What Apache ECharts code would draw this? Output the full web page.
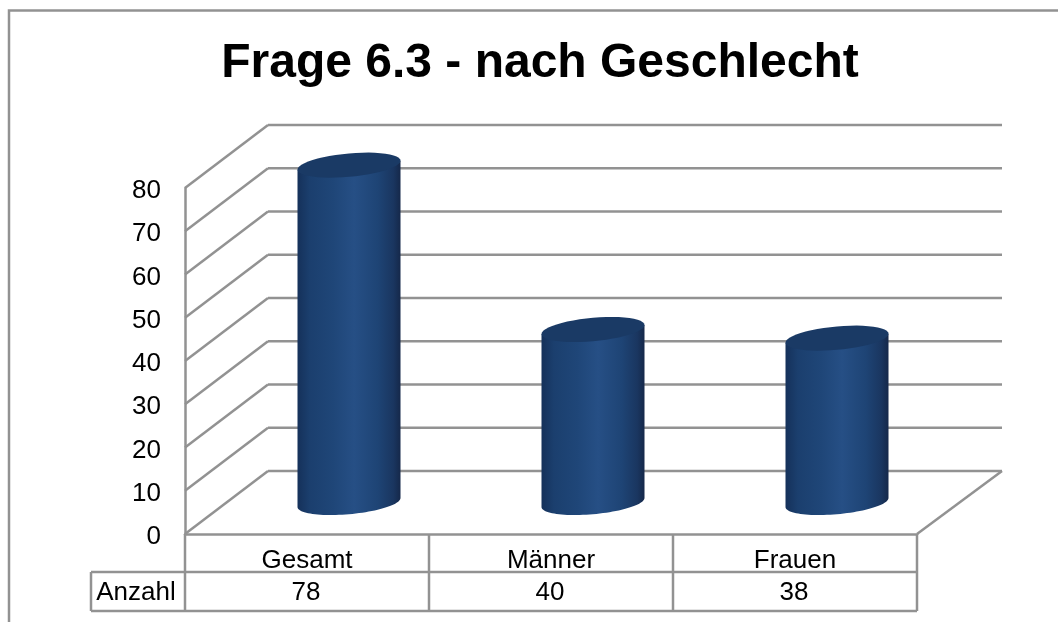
<!DOCTYPE html>
<html>
<head>
<meta charset="utf-8">
<style>html,body{margin:0;padding:0;background:#fff}#chart{width:1058px;height:622px}</style>
<script src="https://cdn.jsdelivr.net/npm/echarts@6/dist/echarts.min.js"></script>
</head>
<body>
<div id="chart"></div>
<script>
var categories = ['Gesamt', 'Männer', 'Frauen'];
var values = [78, 40, 38];
var yTicks = [0, 10, 20, 30, 40, 50, 60, 70, 80];
var rowName = 'Anzahl';
var titleText = 'Frage 6.3 - nach Geschlecht';

var lineColor = '#929292';
var textColor = '#000';
var font = 'Liberation Sans, Arial, sans-serif';
// Tiefe der 3D-Ansicht in Pixel
var depthX = 83, depthY = 63;
var rowH = 38;

function lineEl(x1, y1, x2, y2, w) {
    return {
        type: 'line',
        shape: {x1: x1, y1: y1, x2: x2, y2: y2},
        style: {stroke: lineColor, lineWidth: w || 2.5}
    };
}

// Ellipsenpunkte, leicht gekippt wie in der 3D-Vorlage
function ellipsePts(cx, cy, from, to) {
    var a = 51.5, b = 11.7, s = 4.5, pts = [];
    for (var i = 0; i <= 48; i++) {
        var t = from + (to - from) * i / 48;
        pts.push([cx + a * Math.cos(t), cy + b * Math.sin(t) - s * Math.cos(t)]);
    }
    return pts;
}

function renderGrid(params, api) {
    var p = api.coord([0, api.value(0)]);
    var left = params.coordSys.x, right = left + params.coordSys.width, y = p[1];
    var children = [
        lineEl(left, y, left + depthX, y - depthY),
        lineEl(left + depthX, y - depthY, right + depthX + 2, y - depthY)
    ];
    if (api.value(0) === 0) {
        children.push(lineEl(right, y, right + depthX + 2, y - depthY));
    }
    return {type: 'group', children: children};
}

function renderCylinder(params, api) {
    var top = api.coord([api.value(0), api.value(1)]);
    var base = api.coord([api.value(0), 0]);
    var cx = top[0] + depthX / 2 + 0.5, yTop = top[1] - depthY / 2, yBase = base[1] - depthY / 2;
    var body = [[cx - 51.5, yTop + 4.5]]
        .concat(ellipsePts(cx, yBase, Math.PI, 0))
        .concat([[cx + 51.5, yTop - 4.5]]);
    return {
        type: 'group',
        children: [{
            type: 'polygon',
            shape: {points: body},
            style: {
                fill: new echarts.graphic.LinearGradient(0, 0, 1, 0, [
                    {offset: 0, color: '#15315a'},
                    {offset: 0.12, color: '#1b3f6e'},
                    {offset: 0.35, color: '#1f4678'},
                    {offset: 0.55, color: '#264f85'},
                    {offset: 0.78, color: '#1e4475'},
                    {offset: 0.93, color: '#1a3660'},
                    {offset: 1, color: '#15284a'}
                ])
            }
        }, {
            type: 'polygon',
            shape: {points: ellipsePts(cx, yTop, 0, Math.PI * 2)},
            style: {fill: '#1a3a65'}
        }]
    };
}

function renderTable(params, api) {
    var sys = params.coordSys;
    var yTop = sys.y + sys.height, yRow = yTop + rowH, yEnd = yRow + rowH + 1;
    var bandW = sys.width / categories.length;
    var children = [
        lineEl(sys.x, yTop, sys.x, yEnd),
        lineEl(sys.x + sys.width, yTop, sys.x + sys.width, yEnd),
        lineEl(sys.x + bandW, yTop, sys.x + bandW, yEnd),
        lineEl(sys.x + bandW * 2, yTop, sys.x + bandW * 2, yEnd),
        lineEl(sys.x - 94, yRow, sys.x + sys.width, yRow),
        lineEl(sys.x - 94, yEnd, sys.x + sys.width, yEnd),
        lineEl(sys.x - 94, yRow, sys.x - 94, yEnd),
        {
            type: 'text',
            style: {text: rowName, x: sys.x - 49, y: yRow + rowH / 2 + 2, align: 'center', verticalAlign: 'middle',
                font: '26px ' + font, fill: textColor}
        }
    ];
    values.forEach(function (v, i) {
        children.push({
            type: 'text',
            style: {text: String(v), x: sys.x + bandW * (i + 0.5) - 1, y: yRow + rowH / 2 + 2, align: 'center', verticalAlign: 'middle',
                font: '26px ' + font, fill: textColor}
        });
    });
    return {type: 'group', children: children};
}

var chart = echarts.init(document.getElementById('chart'));
var option = {
    animation: false,
    backgroundColor: '#fff',
    title: {
        text: titleText,
        left: 535,
        top: 35,
        textAlign: 'center',
        textStyle: {fontFamily: font, fontSize: 48, fontWeight: 'bold', color: textColor}
    },
    graphic: [{
        type: 'polyline',
        silent: true,
        shape: {points: [[9, 622], [9, 10.5], [1058, 10.5]]},
        style: {stroke: lineColor, lineWidth: 2.5, fill: null}
    }],
    grid: {left: 185, top: 188, width: 732, height: 346},
    xAxis: {
        type: 'category',
        data: categories,
        axisTick: {show: false},
        axisLine: {show: true, lineStyle: {color: lineColor, width: 2.5}},
        axisLabel: {margin: 14, fontFamily: font, fontSize: 26, color: textColor, interval: 0}
    },
    yAxis: {
        type: 'value',
        min: yTicks[0],
        max: yTicks[yTicks.length - 1],
        interval: 10,
        splitLine: {show: false},
        axisTick: {show: false},
        axisLine: {show: true, lineStyle: {color: lineColor, width: 2.5}},
        axisLabel: {margin: 24, fontFamily: font, fontSize: 26, color: textColor, verticalAlign: 'top', padding: [-10, 0, 0, 0]}
    },
    series: [{
        type: 'custom',
        silent: true,
        renderItem: renderGrid,
        data: yTicks.map(function (t) { return [t]; }),
        encode: {y: 0},
        z: 1
    }, {
        type: 'custom',
        silent: true,
        renderItem: renderCylinder,
        data: values.map(function (v, i) { return [i, v]; }),
        encode: {x: 0, y: 1},
        z: 2
    }, {
        type: 'custom',
        silent: true,
        renderItem: renderTable,
        data: [[0]],
        z: 3
    }]
};
chart.setOption(option);
</script>
</body>
</html>
